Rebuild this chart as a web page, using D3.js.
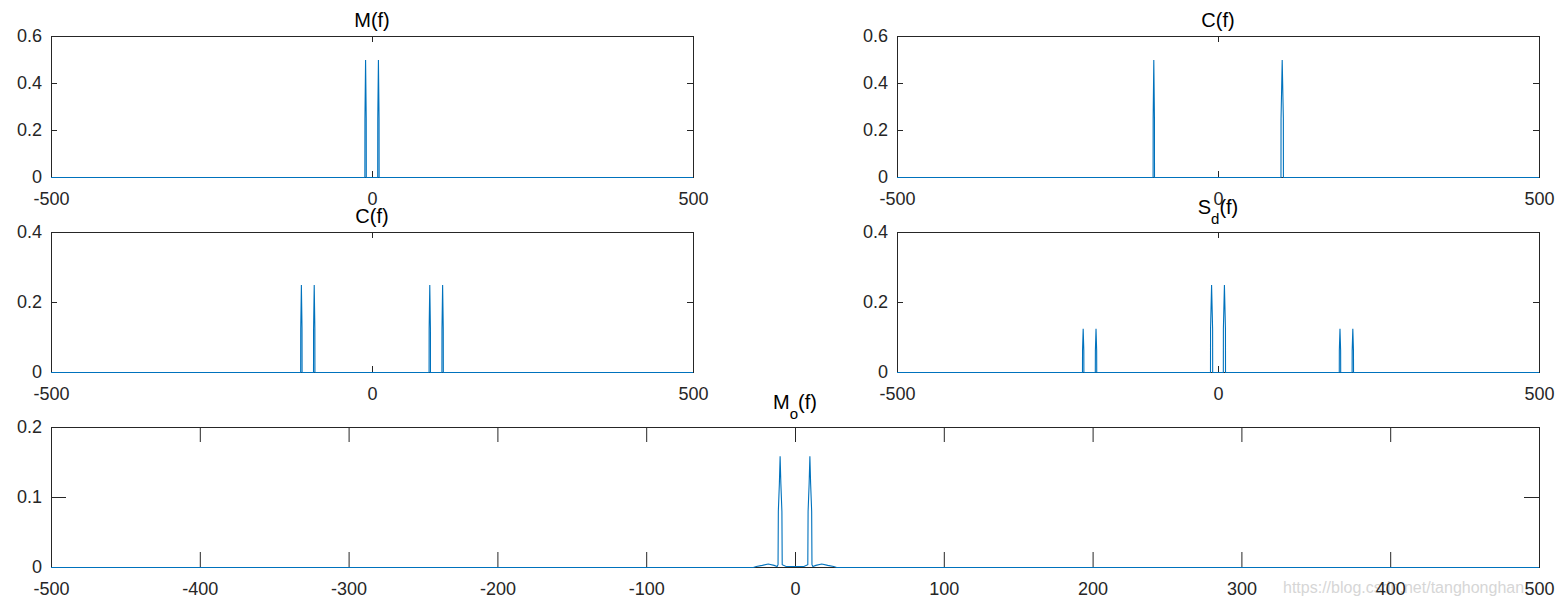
<!DOCTYPE html>
<html>
<head>
<meta charset="utf-8">
<script src="https://cdn.jsdelivr.net/npm/d3@7/dist/d3.min.js"></script>
<style>
  html, body { margin: 0; padding: 0; background: #fff; }
  svg { display: block; }
</style>
</head>
<body>
<svg id="chart" width="1564" height="607"></svg>
<script>
// ---------------- data ----------------
// M(f): message spectrum
const mFreq = [-500, -11.1, -11, -10, -9, -8.9, 8.9, 9, 10, 11, 11.1, 500];
const mAmp  = [0, 0, 0.25, 0.5, 0.25, 0, 0, 0.25, 0.5, 0.25, 0, 0];

// C(f): carrier spectrum
const cFreq = [-500, -101.1, -101, -100, -99, -98.9, 98.1, 98.2, 100, 101.8, 101.9, 500];
const cAmp  = [0, 0, 0.25, 0.5, 0.25, 0, 0, 0.25, 0.5, 0.25, 0, 0];

// second "C(f)" panel: modulated spectrum
const sFreq = [-500, -111.1, -111, -110, -109, -108.9, -91.1, -91, -90, -89, -88.9,
               88.9, 89, 90, 91, 91.1, 108.9, 109, 110, 111, 111.1, 500];
const sAmp  = [0, 0, 0.125, 0.25, 0.125, 0, 0, 0.125, 0.25, 0.125, 0,
               0, 0.125, 0.25, 0.125, 0, 0, 0.125, 0.25, 0.125, 0, 0];

// S_d(f): demodulated spectrum
const sdFreq = [-500, -211.1, -211, -210, -209, -208.9, -191.1, -191, -190, -189, -188.9,
                -11.7, -11.6, -10, -8.4, -8.3, 8.3, 8.4, 10, 11.6, 11.7,
                188.9, 189, 190, 191, 191.1, 208.9, 209, 210, 211, 211.1, 500];
const sdAmp  = [0, 0, 0.0625, 0.125, 0.0625, 0, 0, 0.0625, 0.125, 0.0625, 0,
                0, 0.125, 0.25, 0.125, 0, 0, 0.125, 0.25, 0.125, 0,
                0, 0.0625, 0.125, 0.0625, 0, 0, 0.0625, 0.125, 0.0625, 0, 0];

// M_o(f): low-pass filtered output spectrum
const moFreq = [-500, -28, -26, -22, -18, -14, -12, -11.4, -11.2, -10.5, -10, -9.5, -8.8, -8.6, -6,
                0, 6, 8.6, 8.8, 9.5, 10, 10.5, 11.2, 11.4, 12, 14, 18, 22, 26, 28, 500];
const moAmp  = [0, 0, 0.0015, 0.003, 0.005, 0.003, 0.0015, 0.004, 0.08, 0.12, 0.159, 0.12, 0.08, 0.004, 0.0015,
                0.0015, 0.0015, 0.004, 0.08, 0.12, 0.159, 0.12, 0.08, 0.004, 0.0015, 0.003, 0.005, 0.003, 0.0015, 0, 0];

// tick labels
const xTicksSmall = [-500, 0, 500];
const xTicksWide  = [-500, -400, -300, -200, -100, 0, 100, 200, 300, 400, 500];
const yTicks06 = [0, 0.2, 0.4, 0.6];
const yTicks04 = [0, 0.2, 0.4];
const yTicks02 = [0, 0.1, 0.2];

const watermark = "https://blog.csdn.net/tanghonghan";

// ---------------- drawing ----------------
const svg = d3.select("#chart");
const FONT = "'Liberation Sans', Arial, Helvetica, sans-serif";
const AXC = "#262626";
const LINEC = "#0072BD";

// watermark beneath everything
svg.append("text")
  .attr("x", 1283).attr("y", 593)
  .attr("font-family", FONT).attr("font-size", 16)
  .attr("fill", "#d6d6d6")
  .text(watermark);

const panels = [
  {x0: 51,  x1: 693,  yt: 36,  yb: 177, ymax: 0.6, yt_: yTicks06, xt: xTicksSmall, tl: 6,  title: ["M", null, "(f)"], f: mFreq,  a: mAmp},
  {x0: 897, x1: 1539, yt: 36,  yb: 177, ymax: 0.6, yt_: yTicks06, xt: xTicksSmall, tl: 6,  title: ["C", null, "(f)"], f: cFreq,  a: cAmp},
  {x0: 51,  x1: 693,  yt: 232, yb: 372, ymax: 0.4, yt_: yTicks04, xt: xTicksSmall, tl: 6,  title: ["C", null, "(f)"], f: sFreq,  a: sAmp},
  {x0: 897, x1: 1539, yt: 232, yb: 372, ymax: 0.4, yt_: yTicks04, xt: xTicksSmall, tl: 6,  title: ["S", "d", "(f)"],  f: sdFreq, a: sdAmp},
  {x0: 51,  x1: 1539, yt: 427, yb: 567, ymax: 0.2, yt_: yTicks02, xt: xTicksWide,  tl: 15, title: ["M", "o", "(f)"],  f: moFreq, a: moAmp}
];

panels.forEach(p => {
  const x = d3.scaleLinear().domain([-500, 500]).range([p.x0, p.x1]);
  const y = d3.scaleLinear().domain([0, p.ymax]).range([p.yb, p.yt]);
  const g = svg.append("g");

  const fmt = d => String(d);

  const gb = g.append("g").attr("transform", `translate(0,${p.yb})`)
    .call(d3.axisBottom(x).tickValues(p.xt).tickSize(-p.tl).tickPadding(15).tickFormat(fmt));
  const gt = g.append("g").attr("transform", `translate(0,${p.yt})`)
    .call(d3.axisTop(x).tickValues(p.xt).tickSize(-p.tl).tickFormat(""));
  const gl = g.append("g").attr("transform", `translate(${p.x0},0)`)
    .call(d3.axisLeft(y).tickValues(p.yt_).tickSize(-p.tl).tickPadding(9).tickFormat(fmt));
  const gr = g.append("g").attr("transform", `translate(${p.x1},0)`)
    .call(d3.axisRight(y).tickValues(p.yt_).tickSize(-p.tl).tickFormat(""));

  [gb, gt, gl, gr].forEach(a => {
    a.select(".domain").remove();
    a.selectAll(".tick line").attr("stroke", AXC).attr("stroke-width", 1);
    a.selectAll("text").attr("fill", AXC).attr("font-family", FONT).attr("font-size", 18);
  });

  // box
  g.append("rect")
    .attr("x", p.x0 + 0.5).attr("y", p.yt + 0.5)
    .attr("width", p.x1 - p.x0).attr("height", p.yb - p.yt)
    .attr("fill", "none").attr("stroke", AXC).attr("stroke-width", 1)
    .attr("shape-rendering", "crispEdges");

  // data line
  const pts = p.f.map((f, i) => [f, p.a[i]]);
  g.append("path")
    .datum(pts)
    .attr("fill", "none")
    .attr("stroke", LINEC)
    .attr("stroke-width", 1.1)
    .attr("stroke-linejoin", "miter")
    .attr("stroke-miterlimit", 2)
    .attr("d", d3.line().x(d => x(d[0])).y(d => y(d[1]) + 0.5));

  // title
  const cx = (p.x0 + p.x1) / 2;
  const t = g.append("text")
    .attr("x", cx)
    .attr("y", p.title[1] ? p.yt - 18 : p.yt - 9)
    .attr("text-anchor", "middle")
    .attr("font-family", FONT).attr("font-size", 20)
    .attr("fill", "#000");
  t.append("tspan").text(p.title[0]);
  if (p.title[1]) {
    t.append("tspan").attr("font-size", 15).attr("dy", 10).text(p.title[1]);
    t.append("tspan").attr("dy", -10).text(p.title[2]);
  } else {
    t.append("tspan").text(p.title[2]);
  }
});
</script>
</body>
</html>
